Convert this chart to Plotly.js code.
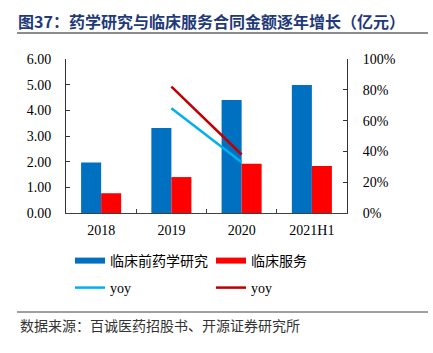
<!DOCTYPE html>
<html>
<head>
<meta charset="utf-8">
<script src="https://cdn.plot.ly/plotly-3.0.1.min.js"></script>
<style>html,body{margin:0;padding:0;background:#fff;}#chart{width:433px;height:353px;}</style>
</head>
<body>
<div id="chart"></div>
<script>
const categories = ['2018', '2019', '2020', '2021H1'];
const preclinical = [1.97, 3.31, 4.40, 4.99];
const clinical = [0.77, 1.40, 1.92, 1.83];
const preclinicalYoy = [null, 0.68, 0.33, null];
const clinicalYoy = [null, 0.82, 0.38, null];
const seriesNames = ['临床前药学研究', '临床服务', 'yoy', 'yoy'];
const titleText = '图37：药学研究与临床服务合同金额逐年增长（亿元）';
const sourceText = '数据来源：百诚医药招股书、开源证券研究所';

const C_BLUE = '#0070C0', C_RED = '#FF0000', C_LBLUE = '#00B0F0', C_DRED = '#C00000';
const FONT = 'Liberation Serif, Times New Roman, Noto Sans CJK SC, serif';
const CJK = 'Noto Sans CJK SC, sans-serif';

const traces = [
  {type: 'bar', x: categories, y: preclinical, name: seriesNames[0], marker: {color: C_BLUE}, showlegend: false},
  {type: 'bar', x: categories, y: clinical, name: seriesNames[1], marker: {color: C_RED}, showlegend: false},
  {type: 'scatter', mode: 'lines', x: categories, y: preclinicalYoy, yaxis: 'y2', name: seriesNames[2],
   line: {color: C_LBLUE, width: 2.5}, legend: 'legend2', connectgaps: false},
  {type: 'scatter', mode: 'lines', x: categories, y: clinicalYoy, yaxis: 'y2', name: seriesNames[3],
   line: {color: C_DRED, width: 2.5}, legend: 'legend2', connectgaps: false},
  // legend swatches for the bar series
  {type: 'scatter', mode: 'lines', x: [categories[0]], y: [null], name: seriesNames[0],
   line: {color: C_BLUE, width: 6}, legend: 'legend', hoverinfo: 'skip'},
  {type: 'scatter', mode: 'lines', x: [categories[0]], y: [null], name: seriesNames[1],
   line: {color: C_RED, width: 6}, legend: 'legend', hoverinfo: 'skip'}
];

const L = 66, R = 347, T = 59, B = 213, W = 433, H = 353;
const px = v => (v - L) / (R - L);
const py = v => (B - v) / (B - T);

const legendCommon = {
  orientation: 'h', xanchor: 'left', yanchor: 'middle', bgcolor: 'rgba(0,0,0,0)',
  entrywidth: 96, entrywidthmode: 'pixels', itemclick: false,
  font: {family: FONT, size: 14, color: '#000'}
};

const layout = {
  width: W, height: H,
  margin: {l: L, r: W - R, t: T, b: H - B, pad: 0},
  paper_bgcolor: '#fff', plot_bgcolor: '#fff',
  font: {family: FONT, size: 14, color: '#000'},
  barmode: 'group', bargap: 0.43, bargroupgap: 0,
  title: {text: '<b>' + titleText + '</b>', x: 18 / W, xanchor: 'left', xref: 'container',
          y: 1 - 22 / H, yref: 'container', yanchor: 'middle',
          font: {family: CJK, size: 16, color: '#1F3A78'}},
  xaxis: {type: 'category', showline: true, linecolor: '#404040', linewidth: 1,
          ticks: 'inside', ticklen: 4, tickcolor: '#404040', tickson: 'boundaries',
          showgrid: false, zeroline: false, ticklabelstandoff: 4,
          tickfont: {family: FONT, size: 14, color: '#000'}},
  yaxis: {range: [0, 6], dtick: 1, tickformat: '.2f', showline: true, linecolor: '#333', linewidth: 1,
          ticks: 'inside', ticklen: 4, tickcolor: '#333', showgrid: false, zeroline: false,
          ticklabelstandoff: 11, tickfont: {family: FONT, size: 14, color: '#000'}},
  yaxis2: {range: [0, 1], dtick: 0.2, tickformat: '.0%', overlaying: 'y', side: 'right',
           showline: true, linecolor: '#333', linewidth: 1, ticks: 'inside', ticklen: 4, tickcolor: '#333',
           showgrid: false, zeroline: false, ticklabelstandoff: 12,
           tickfont: {family: FONT, size: 14, color: '#000'}},
  legend: Object.assign({}, legendCommon, {x: px(70), y: py(261)}),
  legend2: Object.assign({}, legendCommon, {x: px(70), y: py(288)}),
  shapes: [
    {type: 'line', xref: 'paper', yref: 'paper', x0: px(17), x1: px(428), y0: py(33), y1: py(33),
     line: {color: '#8C8C8C', width: 2}},
    {type: 'line', xref: 'paper', yref: 'paper', x0: px(17), x1: px(428), y0: py(312), y1: py(312),
     line: {color: '#404040', width: 1}}
  ],
  annotations: [
    {text: sourceText, xref: 'paper', yref: 'paper', x: px(18), y: py(325), xanchor: 'left', yanchor: 'middle',
     showarrow: false, font: {family: CJK, size: 14, color: '#333'}}
  ]
};

Plotly.newPlot('chart', traces, layout, {displayModeBar: false, staticPlot: true});
</script>
</body>
</html>
